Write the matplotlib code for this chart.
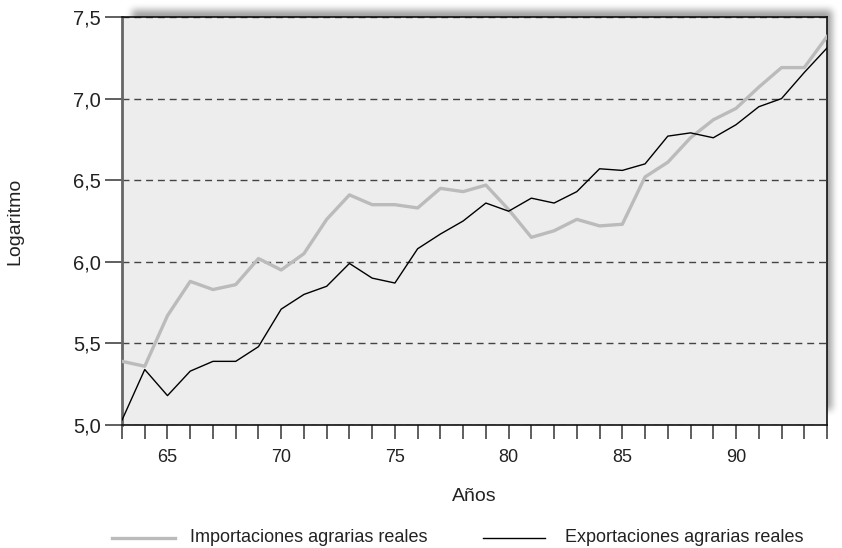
import matplotlib
matplotlib.use("Agg")
import matplotlib.pyplot as plt
import numpy as np
from matplotlib.lines import Line2D
from matplotlib.ticker import FuncFormatter

years = list(range(63, 95))
importaciones = [5.39, 5.36, 5.67, 5.88, 5.83, 5.86, 6.02, 5.95, 6.05, 6.26,
                 6.41, 6.35, 6.35, 6.33, 6.45, 6.43, 6.47, 6.32, 6.15, 6.19,
                 6.26, 6.22, 6.23, 6.52, 6.61, 6.76, 6.87, 6.94, 7.07, 7.19,
                 7.19, 7.38]
exportaciones = [5.03, 5.34, 5.18, 5.33, 5.39, 5.39, 5.48, 5.71, 5.80, 5.85,
                 5.99, 5.90, 5.87, 6.08, 6.17, 6.25, 6.36, 6.31, 6.39, 6.36,
                 6.43, 6.57, 6.56, 6.60, 6.77, 6.79, 6.76, 6.84, 6.95, 7.00,
                 7.16, 7.31]
xtick_labels = [65, 70, 75, 80, 85, 90]
ytick_values = [5.0, 5.5, 6.0, 6.5, 7.0, 7.5]
series_names = ['Importaciones agrarias reales', 'Exportaciones agrarias reales']

plt.rcParams['font.family'] = ['Liberation Sans', 'DejaVu Sans']
TXT = '#222222'

W, H = 842, 548
fig = plt.figure(figsize=(W/100, H/100), dpi=100)
L, R, B, T = 122/W, 827/W, 1-425/H, 1-17/H
ax = fig.add_axes([L, B, R-L, T-B])

# soft blurred drop shadow (decoration)
mask = np.zeros((H, W))
mask[10:410, 132:832] = 1.0
def box_blur(a, r):
    k = np.ones(2*r+1) / (2*r+1)
    a = np.apply_along_axis(lambda v: np.convolve(v, k, mode='same'), 0, a)
    a = np.apply_along_axis(lambda v: np.convolve(v, k, mode='same'), 1, a)
    return a
for _ in range(3):
    mask = box_blur(mask, 3)
shadow = np.zeros((H, W, 4))
shadow[..., 3] = mask * 0.38
fig.figimage(shadow, xo=0, yo=0, origin='upper', zorder=0)

ax.set_facecolor('#ededed')
ax.set_zorder(2)

ax.plot(years, importaciones, color='#bbbbbb', lw=2.4, zorder=3)
ax.plot(years, exportaciones, color='#000000', lw=1.0, zorder=4)

ax.set_xlim(63, 94)
ax.set_ylim(5.0, 7.5)
ax.set_xticks(years, minor=True)
ax.set_xticks(xtick_labels)
ax.set_yticks(ytick_values)
ax.yaxis.set_major_formatter(FuncFormatter(lambda v, p: f"{v:.1f}".replace('.', ',')))
ax.tick_params(axis='x', which='both', direction='out', length=10, width=1.2,
               color='#444444', labelsize=13, pad=7, labelcolor=TXT)
ax.tick_params(axis='y', direction='out', length=12, width=1.2,
               color='#444444', labelsize=14.5, pad=3, labelcolor=TXT)
for s in ax.spines.values():
    s.set_color('#111111')
    s.set_linewidth(1.2)
ax.spines['left'].set_color('#666666')
ax.spines['left'].set_linewidth(2.0)

ax.grid(axis='y', linestyle=(0, (5, 3.5)), color='#444444', lw=1.0)
for gl in ax.get_ygridlines():
    gl.set_zorder(2)

ax.set_xlabel('Años', fontsize=14, labelpad=16, color=TXT)
fig.text(15/W, 1-221/H, 'Logaritmo', rotation=90, fontsize=14,
         ha='center', va='center', color=TXT)

# legend (manual)
ly = 1 - 538/H
fig.add_artist(Line2D([112/W, 175/W], [ly, ly], color='#bbbbbb', lw=2.4, transform=fig.transFigure))
fig.add_artist(Line2D([483/W, 545/W], [ly, ly], color='#000000', lw=1.0, transform=fig.transFigure))
fig.text(190/W, ly, series_names[0], fontsize=13, ha='left', va='center', color=TXT)
fig.text(565/W, ly, series_names[1], fontsize=13, ha='left', va='center', color=TXT)

fig.savefig('out.png', dpi=100)
